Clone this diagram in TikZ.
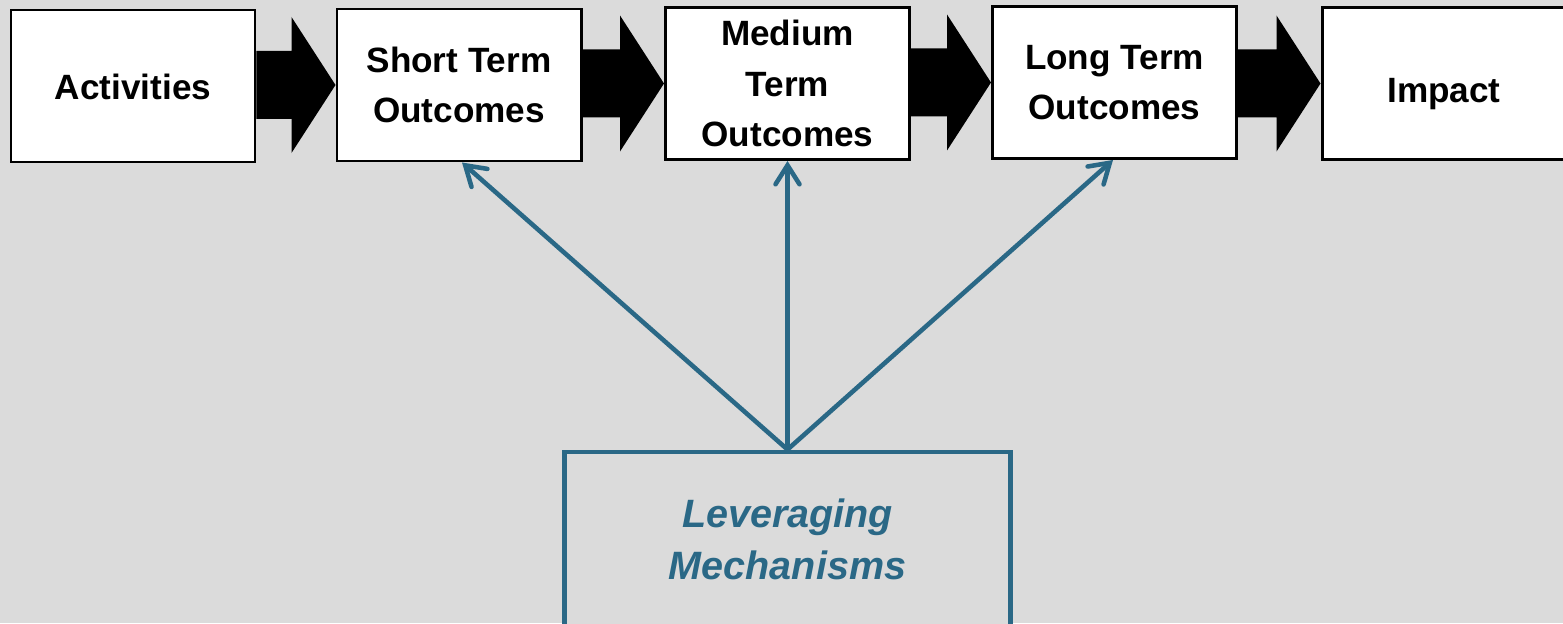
\documentclass[tikz,border=0pt]{standalone}
\usepackage{fontspec}
\setmainfont{Liberation Sans}
\usetikzlibrary{arrows.meta}
\definecolor{bgray}{HTML}{DBDBDB}
\definecolor{levblue}{HTML}{2A6886}
% filled block arrow from the east side of #1 to the west side of #2,
% kept level with the centre of #2
\newcommand\blockarrow[2]{%
  \fill[black] ([yshift=0.68cm]#1.east |- #2.west)
    -- ([xshift=-0.88cm,yshift=0.68cm]#2.west)
    -- ([xshift=-0.88cm,yshift=1.36cm]#2.west)
    -- (#2.west)
    -- ([xshift=-0.88cm,yshift=-1.36cm]#2.west)
    -- ([xshift=-0.88cm,yshift=-0.68cm]#2.west)
    -- ([yshift=-0.68cm]#1.east |- #2.west) -- cycle;}
\begin{document}
\begin{tikzpicture}[
  stagebox/.style={draw=black, line width=1.7pt, fill=white,
    minimum width=4.88cm, minimum height=3.04cm, inner sep=0pt,
    align=center, font=\fontsize{20}{28.5}\selectfont\bfseries},
  oneline/.style={text height=#1, text depth=0pt},
  levbox/.style={draw=levblue, line width=2.8pt, fill=bgray,
    minimum width=8.92cm, minimum height=3.5cm, inner sep=0pt,
    align=center, text=levblue,
    font=\fontsize{22.5}{30}\selectfont\bfseries\itshape},
  lever/.style={draw=levblue, line width=2.6pt, line cap=round,
    -{Straight Barb[length=3.8mm, width=4.8mm, line cap=round]}}
]
\fill[bgray] (0,0) rectangle (31.26,12.46);
\useasboundingbox (0,0) rectangle (31.26,12.46);

\node[stagebox, oneline=0.55cm] (act) at (2.66,10.74) {Activities};
\node[stagebox] (st)  at (9.18,10.76) {Short Term\\Outcomes};
\node[stagebox] (mt)  at (15.75,10.79) {Medium\\Term\\Outcomes};
\node[stagebox] (lt)  at (22.29,10.81) {Long Term\\Outcomes};
\node[stagebox, oneline=0.74cm] (imp) at (28.88,10.79) {Impact};

\blockarrow{act}{st}
\blockarrow{st}{mt}
\blockarrow{mt}{lt}
\blockarrow{lt}{imp}

\node[levbox] (lev) at (15.75,1.67) {Leveraging\\Mechanisms};
\coordinate (src) at (lev.north);

\draw[lever] (src) -- ([xshift=0.06cm]st.south);
\draw[lever] (src) -- (mt.south);
\draw[lever] (src) -- ([xshift=-0.03cm]lt.south);
\end{tikzpicture}
\end{document}
